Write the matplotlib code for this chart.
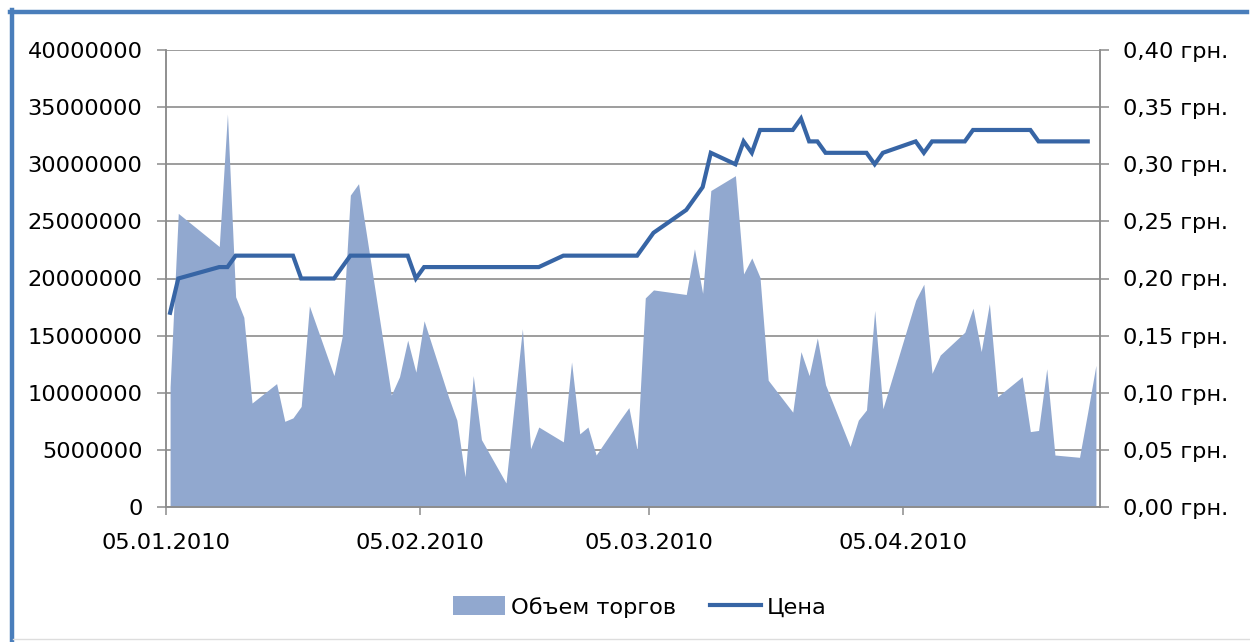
import numpy as np
import matplotlib
matplotlib.use("Agg")
import matplotlib.pyplot as plt
import matplotlib.dates as mdates
from matplotlib.lines import Line2D
from matplotlib.patches import Patch
import datetime as dt

plt.rcParams['font.family'] = ['DejaVu Sans']

dates = [
    "2010-01-05", "2010-01-06", "2010-01-11", "2010-01-12", "2010-01-13", "2010-01-14", "2010-01-15",
    "2010-01-18", "2010-01-19", "2010-01-20", "2010-01-21", "2010-01-22", "2010-01-25", "2010-01-26",
    "2010-01-27", "2010-01-28", "2010-01-29",
    "2010-02-01", "2010-02-02", "2010-02-03", "2010-02-04", "2010-02-05", "2010-02-08", "2010-02-09",
    "2010-02-10", "2010-02-11", "2010-02-12", "2010-02-15", "2010-02-16", "2010-02-17", "2010-02-18",
    "2010-02-19", "2010-02-22", "2010-02-23", "2010-02-24", "2010-02-25", "2010-02-26",
    "2010-03-01", "2010-03-02", "2010-03-03", "2010-03-04", "2010-03-05", "2010-03-09", "2010-03-10",
    "2010-03-11", "2010-03-12", "2010-03-15", "2010-03-16", "2010-03-17", "2010-03-18", "2010-03-19",
    "2010-03-22", "2010-03-23", "2010-03-24", "2010-03-25", "2010-03-26", "2010-03-29", "2010-03-30",
    "2010-03-31",
    "2010-04-01", "2010-04-02", "2010-04-06", "2010-04-07", "2010-04-08", "2010-04-09", "2010-04-12",
    "2010-04-13", "2010-04-14", "2010-04-15", "2010-04-16", "2010-04-19", "2010-04-20", "2010-04-21",
    "2010-04-22", "2010-04-23", "2010-04-26", "2010-04-27", "2010-04-28",
]

# Объем торгов, millions
volume_mln = [
    10.5, 25.7, 22.8, 34.4, 18.4, 16.6, 9.1,
    10.8, 7.5, 7.8, 8.8, 17.6, 11.5, 14.9,
    27.3, 28.3, 23.7,
    9.8, 11.4, 14.6, 11.8, 16.3, 9.6, 7.6,
    2.65, 11.5, 5.9, 2.1, 8.9, 15.6, 5.1,
    7.0, 5.7, 12.7, 6.4, 7.0, 4.55,
    7.7, 8.7, 5.0, 18.3, 19.0, 18.6, 22.6,
    18.7, 27.7, 29.0, 20.4, 21.8, 20.1, 11.1,
    8.3, 13.6, 11.5, 14.8, 10.7, 5.3, 7.6,
    8.5,
    17.2, 8.6, 18.1, 19.5, 11.7, 13.3, 15.3,
    17.4, 13.6, 17.8, 9.65, 11.4, 6.6, 6.7,
    12.1, 4.55, 4.35, 8.3, 12.4,
]

# Цена, грн.
price = [
    0.17, 0.20, 0.21, 0.21, 0.22, 0.22, 0.22,
    0.22, 0.22, 0.22, 0.20, 0.20, 0.20, 0.21,
    0.22, 0.22, 0.22,
    0.22, 0.22, 0.22, 0.20, 0.21, 0.21, 0.21,
    0.21, 0.21, 0.21, 0.21, 0.21, 0.21, 0.21,
    0.21, 0.22, 0.22, 0.22, 0.22, 0.22,
    0.22, 0.22, 0.22, 0.23, 0.24, 0.26, 0.27,
    0.28, 0.31, 0.30, 0.32, 0.31, 0.33, 0.33,
    0.33, 0.34, 0.32, 0.32, 0.31, 0.31, 0.31,
    0.31,
    0.30, 0.31, 0.32, 0.31, 0.32, 0.32, 0.32,
    0.33, 0.33, 0.33, 0.33, 0.33, 0.33, 0.32,
    0.32, 0.32, 0.32, 0.32, None,
]

tick_dates = ["2010-01-05", "2010-02-05", "2010-03-05", "2010-04-05"]
axis_start, axis_end = "2010-01-05", "2010-04-29"

series_names = ["Объем торгов", "Цена"]

def dnum(s):
    return mdates.date2num(dt.datetime.strptime(s, "%Y-%m-%d"))

x = np.array([dnum(d) for d in dates]) + 0.5
vol = np.array(volume_mln) * 1e6
pr = np.array([np.nan if p is None else p for p in price], dtype=float)

AREA = '#91A8CF'
LINE = '#3765A5'
GRID = '#8C8C8C'
FS = 16.2

fig = plt.figure(figsize=(12.5, 6.42), dpi=100)
ax = fig.add_axes([166/1250, 1 - 507/642, (1100-166)/1250, (507-50)/642])
ax2 = ax.twinx()

ax.fill_between(x, 0, vol, color=AREA, linewidth=0, zorder=2)
ax2.plot(x, pr, color=LINE, linewidth=3.0, solid_joinstyle='miter', zorder=3)

ax.set_xlim(dnum(axis_start), dnum(axis_end))
ax.set_ylim(0, 40e6)
ax2.set_ylim(0, 0.40)
ax.set_yticks(np.arange(0, 40e6 + 1, 5e6))
ax2.set_yticks(np.arange(0, 0.401, 0.05))
ax.yaxis.set_major_formatter(matplotlib.ticker.FuncFormatter(lambda v, p: f"{int(round(v))}"))
ax2.yaxis.set_major_formatter(matplotlib.ticker.FuncFormatter(
    lambda v, p: f"{v:.2f}".replace('.', ',') + " грн."))
ax.set_xticks([dnum(t) for t in tick_dates])
ax.xaxis.set_major_formatter(mdates.DateFormatter("%d.%m.%Y"))

ax.grid(axis='y', color=GRID, linewidth=1.2, zorder=0)
ax.set_axisbelow(True)
for a in (ax, ax2):
    for s in a.spines.values():
        s.set_color(GRID)
        s.set_linewidth(1.1)
    a.spines['top'].set_visible(False)
ax.tick_params(axis='y', length=6.5, width=1.1, color=GRID, labelsize=FS, pad=10.5)
ax2.tick_params(axis='y', length=6.5, width=1.1, color=GRID, labelsize=FS, pad=10)
ax.tick_params(axis='x', length=6, width=1.1, color=GRID, labelsize=FS, pad=13)

handles = [Patch(facecolor=AREA, edgecolor='none'),
           Line2D([0], [0], color=LINE, linewidth=3.0)]
fig.legend(handles, series_names, loc='center', bbox_to_anchor=(640/1250, 1 - 607/642),
           ncol=2, frameon=False, fontsize=FS, handlelength=2.3, handleheight=0.9,
           handletextpad=0.25, columnspacing=1.5)

# screenshot frame
fig.add_artist(Line2D([11.5/1250, 11.5/1250], [0, 1 - 10/642], color='#4A7EBB', linewidth=3.2,
                      transform=fig.transFigure))
fig.add_artist(Line2D([10/1250, 1247/1250], [1 - 11.5/642, 1 - 11.5/642], color='#4A7EBB',
                      linewidth=3.2, transform=fig.transFigure))
fig.add_artist(Line2D([13/1250, 1250/1250], [1 - 639/642, 1 - 639/642], color='#DDDDDD',
                      linewidth=1.0, transform=fig.transFigure))

fig.savefig("out.png", dpi=100)
